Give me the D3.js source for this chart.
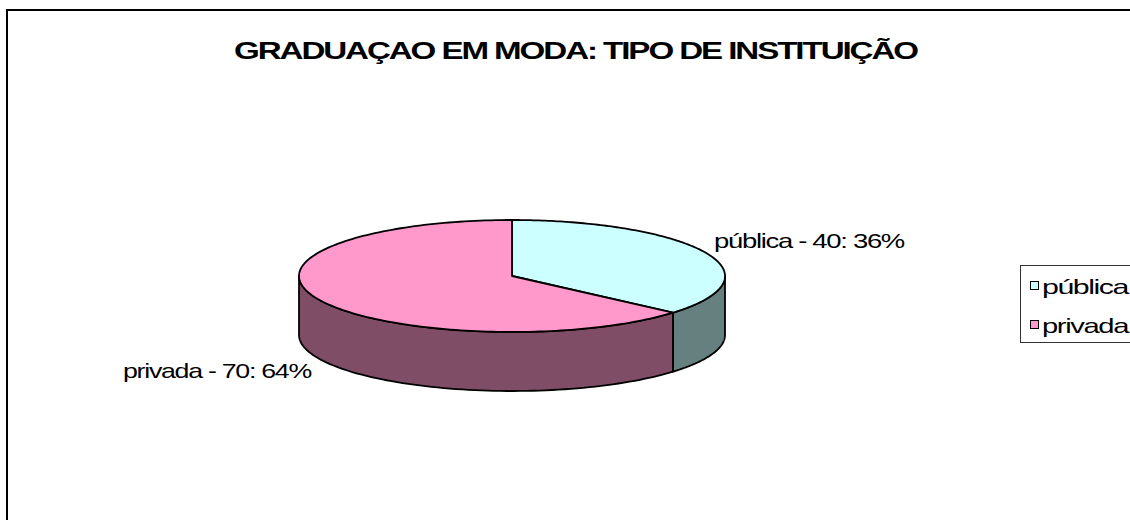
<!DOCTYPE html>
<html>
<head>
<meta charset="utf-8">
<script src="https://cdn.jsdelivr.net/npm/d3@7"></script>
<style>
  html, body { margin: 0; padding: 0; background: #ffffff; }
  svg { display: block; }
</style>
</head>
<body>
<svg id="chart" width="1130" height="520"></svg>
<script>
// ---- data ----
const title = "GRADUAÇAO EM MODA: TIPO DE INSTITUIÇÃO";
const categories = ["pública", "privada"];
const values = [40, 70];
const percents = ["36%", "64%"];
const topColors = ["#CCFFFF", "#FF99CC"];
const sideColors = ["#668080", "#804D66"];

// ---- layout ----
const svg = d3.select("#chart");
const FONT = "'Liberation Sans', Arial, sans-serif";

// chart border (extends past right and bottom edges)
svg.append("rect")
  .attr("x", 7).attr("y", 10)
  .attr("width", 1140).attr("height", 530)
  .attr("fill", "#fff").attr("stroke", "#000").attr("stroke-width", 2);

// title
svg.append("text")
  .attr("x", 234).attr("y", 59)
  .attr("textLength", 683).attr("lengthAdjust", "spacingAndGlyphs")
  .attr("font-family", FONT).attr("font-weight", "bold")
  .attr("font-size", 24).attr("letter-spacing", -1.5).attr("fill", "#000")
  .text(title);

// ---- 3D pie ----
const cx = 512, cy = 276, rx = 213, ry = 56, depth = 59;
const pie = d3.pie().sort(null).value(d => d)
  .startAngle(0).endAngle(2 * Math.PI);
const arcs = pie(values);

const px = a => cx + rx * Math.sin(a);
const py = (a, dz = 0) => cy - ry * Math.cos(a) + dz;
const line = d3.line();

function sample(a0, a1, n = 80) {
  return d3.range(n + 1).map(i => a0 + (a1 - a0) * i / n);
}

// walls: visible part of the rim is where angle in [PI/2, 3PI/2]
const lo = Math.PI / 2, hi = 3 * Math.PI / 2;
const wallG = svg.append("g");
arcs.forEach((d, i) => {
  const a0 = Math.max(d.startAngle, lo), a1 = Math.min(d.endAngle, hi);
  if (a1 <= a0) return;
  const topPts = sample(a0, a1).map(a => [px(a), py(a)]);
  const botPts = sample(a1, a0).map(a => [px(a), py(a, depth)]);
  wallG.append("path")
    .attr("d", line(topPts.concat(botPts)) + "Z")
    .attr("fill", sideColors[i])
    .attr("stroke", "#000").attr("stroke-width", 1.8)
    .attr("stroke-linejoin", "round");
});

// tops
const topG = svg.append("g");
arcs.forEach((d, i) => {
  const pts = [[cx, cy]].concat(sample(d.startAngle, d.endAngle, 160).map(a => [px(a), py(a)]));
  topG.append("path")
    .attr("d", line(pts) + "Z")
    .attr("fill", topColors[i])
    .attr("stroke", "#000").attr("stroke-width", 1.8)
    .attr("stroke-linejoin", "round");
});

// data labels
const labelPos = [
  { x: 714, y: 248, w: 190 },
  { x: 123, y: 378, w: 188 }
];
categories.forEach((c, i) => {
  svg.append("text")
    .attr("x", labelPos[i].x).attr("y", labelPos[i].y)
    .attr("textLength", labelPos[i].w).attr("lengthAdjust", "spacingAndGlyphs")
    .attr("font-family", FONT).attr("font-size", 21).attr("letter-spacing", -1)
    .attr("fill", "#000")
    .text(`${c} - ${values[i]}: ${percents[i]}`);
});

// legend
const lg = svg.append("g");
lg.append("rect")
  .attr("x", 1020.5).attr("y", 265.5)
  .attr("width", 130).attr("height", 77)
  .attr("fill", "#fff").attr("stroke", "#333").attr("stroke-width", 1);
const legY = d3.scalePoint().domain(categories).range([285, 324]);
categories.forEach((c, i) => {
  const y = legY(c);
  lg.append("rect")
    .attr("x", 1030.5).attr("y", y - 3.5)
    .attr("width", 8).attr("height", 8)
    .attr("fill", topColors[i]).attr("stroke", "#000").attr("stroke-width", 1);
  lg.append("text")
    .attr("x", 1042).attr("y", y + 8.5)
    .attr("textLength", 86).attr("lengthAdjust", "spacingAndGlyphs")
    .attr("font-family", FONT).attr("font-size", 21).attr("letter-spacing", -1)
    .attr("fill", "#000")
    .text(c);
});
</script>
</body>
</html>
